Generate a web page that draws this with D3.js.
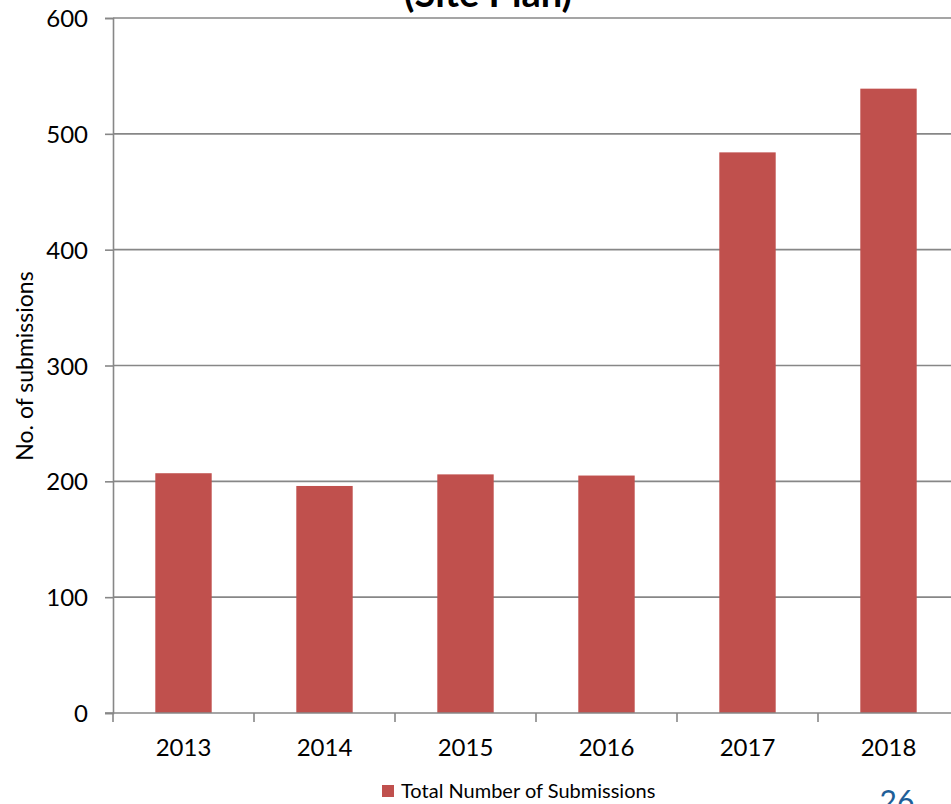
<!DOCTYPE html>
<html>
<head>
<meta charset="utf-8">
<script src="https://cdn.jsdelivr.net/npm/d3@7"></script>
<style>
  html, body { margin: 0; padding: 0; background: #fff; }
  svg { display: block; }
  text { font-family: Lato, "Open Sans", sans-serif; fill: #000; }
</style>
</head>
<body>
<svg id="chart" width="951" height="804"></svg>
<script>
// Submissions per year (Site Plan)
const years = ["2013", "2014", "2015", "2016", "2017", "2018"];
const submissions = [207, 196, 206, 205, 484, 539];
const yTicks = [0, 100, 200, 300, 400, 500, 600];
const seriesName = "Total Number of Submissions";
const titleText = "(Site Plan)";
const yLabel = "No. of submissions";
const pageNumber = "26";

const svg = d3.select("#chart");
const W = 951, H = 804;
const plot = { left: 113, right: 959, top: 18, bottom: 713 };

const x = d3.scaleBand()
  .domain(years)
  .range([plot.left, plot.right])
  .paddingInner(0.6)
  .paddingOuter(0.3);

const y = d3.scaleLinear()
  .domain([0, 600])
  .range([plot.bottom, plot.top]);

const gridColor = "#878787";
const barColor = "#C0504D";

// horizontal gridlines
svg.append("g")
  .selectAll("line")
  .data(yTicks.filter(d => d > 0))
  .join("line")
  .attr("x1", plot.left).attr("x2", W + 10)
  .attr("y1", d => y(d)).attr("y2", d => y(d))
  .attr("stroke", gridColor).attr("stroke-width", 1.6);

// bars
svg.append("g")
  .selectAll("rect")
  .data(years.map((yr, i) => ({ yr, v: submissions[i] })))
  .join("rect")
  .attr("x", d => x(d.yr))
  .attr("width", x.bandwidth())
  .attr("y", d => y(d.v))
  .attr("height", d => y(0) - y(d.v))
  .attr("fill", barColor);

// y axis
const yAxis = svg.append("g")
  .attr("transform", `translate(${plot.left},0)`)
  .call(d3.axisLeft(y).tickValues(yTicks).tickSize(8).tickPadding(17).tickFormat(d3.format("d")));
yAxis.select(".domain").attr("stroke", gridColor).attr("stroke-width", 1.6);
yAxis.selectAll(".tick line").attr("stroke", gridColor).attr("stroke-width", 1.6);
yAxis.selectAll(".tick text")
  .style("font-family", "Lato, 'Open Sans', sans-serif")
  .style("font-size", "24px").attr("fill", "#000").attr("dy", "0.36em");

// x axis: boundary ticks between categories
const xAxisG = svg.append("g");
xAxisG.append("line")
  .attr("x1", plot.left - 8).attr("x2", W + 10)
  .attr("y1", plot.bottom).attr("y2", plot.bottom)
  .attr("stroke", gridColor).attr("stroke-width", 1.6);
const step = x.step();
const boundaries = years.map((yr, i) => x(yr) - x.paddingOuter() * step).concat([plot.right]);
xAxisG.selectAll("line.tk")
  .data(boundaries)
  .join("line")
  .attr("class", "tk")
  .attr("x1", d => d).attr("x2", d => d)
  .attr("y1", plot.bottom).attr("y2", plot.bottom + 9)
  .attr("stroke", gridColor).attr("stroke-width", 1.6);
xAxisG.selectAll("text")
  .data(years)
  .join("text")
  .attr("x", d => x(d) + x.bandwidth() / 2)
  .attr("y", 756)
  .attr("text-anchor", "middle")
  .style("font-size", "24px")
  .text(d => d);

// title (runs over the top edge of the page)
svg.append("text")
  .attr("x", 488).attr("y", 7)
  .attr("text-anchor", "middle")
  .style("font-size", "38px").style("font-weight", "bold")
  .text(titleText);

// y axis title
svg.append("text")
  .attr("transform", "translate(33,366) rotate(-90)")
  .attr("text-anchor", "middle")
  .style("font-size", "23px")
  .text(yLabel);

// legend
svg.append("rect")
  .attr("x", 382).attr("y", 785).attr("width", 12).attr("height", 12)
  .attr("fill", barColor);
svg.append("text")
  .attr("x", 401).attr("y", 798)
  .style("font-size", "20px")
  .text(seriesName);

// page number
svg.append("text")
  .attr("x", 897).attr("y", 812)
  .attr("text-anchor", "middle")
  .style("font-size", "30px")
  .style("fill", "#1F5F99")
  .text(pageNumber);
</script>
</body>
</html>
